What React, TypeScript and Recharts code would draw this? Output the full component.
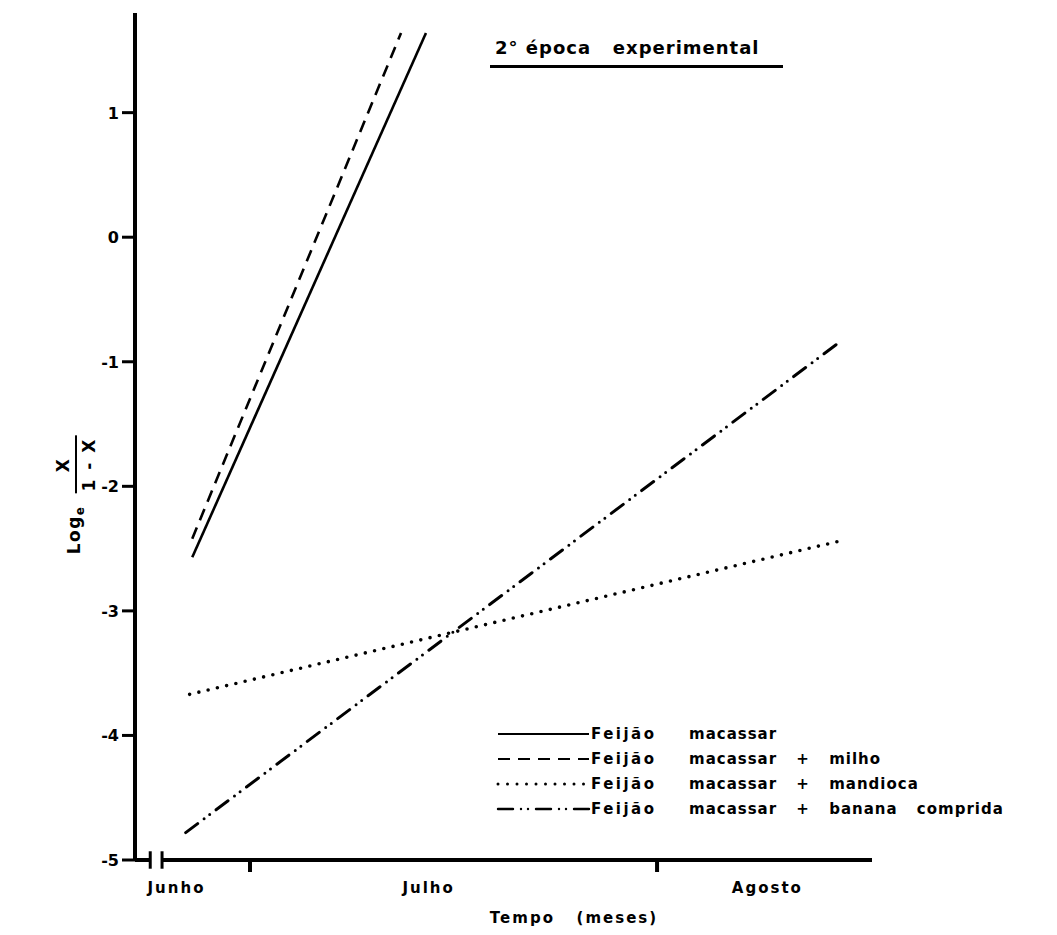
import React from "react";
import { LineChart, Line, XAxis, YAxis, ReferenceLine } from "recharts";

// tempo em dias contados a partir de 1 de junho
const seriesNames = [
  "Feijão macassar",
  "Feijão macassar + milho",
  "Feijão macassar + mandioca",
  "Feijão macassar + banana comprida",
];
const dayStart = [25.6, 25.6, 25.4, 25.1];
const dayEnd = [43.4, 41.5, 75.3, 74.8];
const logitStart = [-2.57, -2.42, -3.67, -4.78];
const logitEnd = [1.64, 1.64, -2.43, -0.85];

const yTicks = [-5, -4, -3, -2, -1, 0, 1];
const monthLabels = ["Junho", "Julho", "Agosto"];
const monthLabelDays = [24.4, 43.6, 69.4];
const monthTickDays = [30, 61];

const W = 1041;
const H = 919;
const FONT = "'DejaVu Sans', sans-serif";
const X_DOMAIN: [number, number] = [21.24, 77.37];
const BREAK = [22.4, 23.3];

const styles = [
  { dash: undefined, cap: "butt", width: 2.6 },
  { dash: "12 8", cap: "butt", width: 2.6 },
  { dash: "0 9.5", cap: "round", width: 3.6 },
  { dash: "15 8 0 7 0 8", cap: "round", width: 3 },
];

const MonthTick = (props: any) => {
  const { x, y, payload } = props;
  const i = monthLabelDays.indexOf(payload.value);
  if (i >= 0) {
    return (
      <text x={x} y={y + 33} textAnchor="middle" fontFamily={FONT} fontWeight="bold" fontSize={15} letterSpacing={2} fill="#000">
        {monthLabels[i]}
      </text>
    );
  }
  return <line x1={x} x2={x} y1={y} y2={y + 12} stroke="#000" strokeWidth={4} />;
};

const LogitTick = (props: any) => {
  const { x, y, payload } = props;
  return (
    <text x={x} y={y + 6} textAnchor="end" fontFamily={FONT} fontWeight="bold" fontSize={16} fill="#000">
      {String(payload.value)}
    </text>
  );
};

export default function App() {
  const series = seriesNames.map((name, i) => ({
    name,
    ...styles[i],
    data: [
      { t: dayStart[i], v: logitStart[i] },
      { t: dayEnd[i], v: logitEnd[i] },
    ],
  }));
  const xTicks = [...monthLabelDays, ...monthTickDays].sort((a, b) => a - b);

  return (
    <div style={{ position: "relative", width: W, height: H, fontFamily: FONT, color: "#000", background: "#fff" }}>
      <LineChart width={W} height={H} margin={{ top: 5, right: 177, bottom: 37, left: 67 }}>
        <XAxis
          type="number"
          dataKey="t"
          domain={X_DOMAIN}
          allowDataOverflow
          ticks={xTicks}
          interval={0}
          axisLine={false}
          tickLine={false}
          tickSize={0}
          tickMargin={0}
          height={30}
          tick={<MonthTick />}
        />
        <YAxis
          type="number"
          domain={[-5, 1.8]}
          allowDataOverflow
          ticks={yTicks}
          interval={0}
          width={60}
          axisLine={{ stroke: "#000", strokeWidth: 4 }}
          tickLine={{ stroke: "#000", strokeWidth: 3 }}
          tickSize={13}
          tickMargin={3}
          tick={<LogitTick />}
        />
        <ReferenceLine segment={[{ x: X_DOMAIN[0], y: -5 }, { x: BREAK[0], y: -5 }]} stroke="#000" strokeWidth={4} ifOverflow="visible" />
        <ReferenceLine segment={[{ x: BREAK[1], y: -5 }, { x: X_DOMAIN[1], y: -5 }]} stroke="#000" strokeWidth={4} ifOverflow="visible" />
        <ReferenceLine segment={[{ x: BREAK[0], y: -5.07 }, { x: BREAK[0], y: -4.93 }]} stroke="#000" strokeWidth={3} ifOverflow="visible" />
        <ReferenceLine segment={[{ x: BREAK[1], y: -5.07 }, { x: BREAK[1], y: -4.93 }]} stroke="#000" strokeWidth={3} ifOverflow="visible" />
        {series.map((s) => (
          <Line
            key={s.name}
            data={s.data}
            dataKey="v"
            name={s.name}
            stroke="#000"
            strokeWidth={s.width}
            strokeDasharray={s.dash}
            strokeLinecap={s.cap as any}
            dot={false}
            activeDot={false}
            isAnimationActive={false}
          />
        ))}
      </LineChart>

      {/* título */}
      <div
        style={{
          position: "absolute", left: 482, top: 30, width: 288,
          fontSize: 18, fontWeight: "bold", letterSpacing: 1, lineHeight: "20px",
          borderBottom: "3px solid #000", paddingBottom: 7, paddingLeft: 5, whiteSpace: "pre",
        }}
      >
        {"2° época   experimental"}
      </div>

      {/* eixo y */}
      <div
        style={{
          position: "absolute", left: 68, top: 487,
          transform: "translate(-50%, -50%) rotate(-90deg)",
          display: "flex", alignItems: "center", fontWeight: "bold", fontSize: 17, letterSpacing: 1.5, whiteSpace: "nowrap",
        }}
      >
        <span>Log<sub style={{ fontSize: 12 }}>e</sub></span>
        <span style={{ display: "inline-flex", flexDirection: "column", alignItems: "center", marginLeft: 12, letterSpacing: 2 }}>
          <span style={{ padding: "0 4px 2px" }}>X</span>
          <span style={{ borderTop: "2px solid #000", padding: "2px 2px 0" }}>1 - X</span>
        </span>
      </div>

      {/* eixo x */}
      <div
        style={{
          position: "absolute", left: 566, top: 901, transform: "translateX(-50%)",
          fontSize: 15, fontWeight: "bold", letterSpacing: 2, whiteSpace: "pre", lineHeight: "18px",
        }}
      >
        {"Tempo   (meses)"}
      </div>

      {/* legenda */}
      <div style={{ position: "absolute", left: 487, top: 713, fontSize: 15, fontWeight: "bold", letterSpacing: 1, wordSpacing: 13 }}>
        {series.map((s) => (
          <div key={s.name} style={{ display: "flex", alignItems: "center", height: 25, whiteSpace: "pre" }}>
            <svg width={96} height={10}>
              <line x1={3} x2={94} y1={5} y2={5} stroke="#000" strokeWidth={s.width - 0.6} strokeDasharray={s.dash} strokeLinecap={s.cap as any} />
            </svg>
            <span style={{ width: 98, letterSpacing: 2.5 }}>{s.name.split(" ")[0]}</span>
            <span>{s.name.split(" ").slice(1).join(" ")}</span>
          </div>
        ))}
      </div>
    </div>
  );
}
